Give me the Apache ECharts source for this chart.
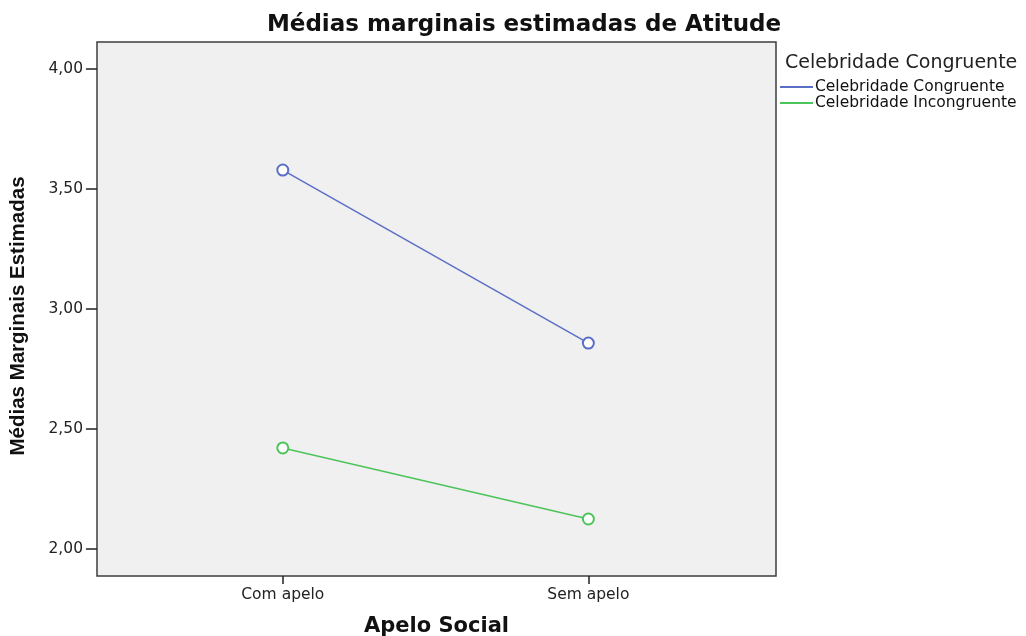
<!DOCTYPE html>
<html>
<head>
<meta charset="utf-8">
<script src="https://cdn.jsdelivr.net/npm/echarts@6/dist/echarts.min.js"></script>
<style>html,body{margin:0;padding:0;background:#fff}#c{width:1026px;height:636px}</style>
</head>
<body>
<div id="c"></div>
<script>
var categories = ['Com apelo', 'Sem apelo'];
var seriesNames = ['Celebridade Congruente', 'Celebridade Incongruente'];
var congruente = [3.579, 2.858];
var incongruente = [2.421, 2.125];
var yTicks = [2.0, 2.5, 3.0, 3.5, 4.0];

function toPts(arr) { return arr.map(function (v, i) { return [i, v]; }); }

var chart = echarts.init(document.getElementById('c'));
chart.setOption({
  animation: false,
  backgroundColor: '#ffffff',
  title: [{
    text: 'Médias marginais estimadas de Atitude',
    left: 519, top: 9, textAlign: 'center',
    textStyle: { fontFamily: 'DejaVu Sans', fontWeight: 'bold', fontSize: 23, color: '#111' }
  }, {
    text: 'Celebridade Congruente',
    left: 780, top: 49,
    textStyle: { fontFamily: 'DejaVu Sans', fontWeight: 'normal', fontSize: 19, color: '#222' }
  }],
  legend: {
    orient: 'vertical', left: 780, top: 79, padding: 0,
    itemWidth: 33, itemHeight: 2, itemGap: 0, icon: 'rect',
    textStyle: { fontFamily: 'DejaVu Sans', fontSize: 15.5, color: '#111', lineHeight: 16, padding: [0, 0, 0, -3] },
    data: seriesNames
  },
  grid: {
    left: 97, right: 250, top: 42, bottom: 60,
    containLabel: false, outerBoundsMode: 'none',
    show: true, backgroundColor: '#f0f0f0', borderColor: '#3c3c3c', borderWidth: 1.5
  },
  xAxis: {
    type: 'value', min: -0.608, max: 1.614,
    name: 'Apelo Social', nameLocation: 'middle', nameGap: 40,
    nameTextStyle: { fontFamily: 'DejaVu Sans', fontWeight: 'bold', fontSize: 21, color: '#111' },
    axisLine: { show: false, onZero: false },
    splitLine: { show: false },
    axisTick: { show: true, length: 8, lineStyle: { color: '#222', width: 1.5 }, customValues: [0, 1] },
    axisLabel: {
      customValues: [0, 1], margin: 11,
      fontFamily: 'DejaVu Sans', fontSize: 15.5, color: '#222',
      formatter: function (v) { return categories[Math.round(v)] || ''; }
    }
  },
  yAxis: {
    type: 'value', min: 1.8875, max: 4.1125,
    name: 'Médias Marginais Estimadas', nameLocation: 'middle', nameGap: 68, nameRotate: 90,
    nameTextStyle: { fontFamily: "'Liberation Sans Narrow', 'Liberation Sans'", fontWeight: 'bold', fontSize: 20.5, color: '#111', padding: [0, 14, 0, 0] },
    axisLine: { show: false, onZero: false },
    splitLine: { show: false },
    axisTick: { show: true, length: 11, lineStyle: { color: '#222', width: 1.5 }, customValues: yTicks },
    axisLabel: {
      customValues: yTicks, margin: 14,
      fontFamily: 'DejaVu Sans', fontSize: 15.5, color: '#222',
      formatter: function (v) { return v.toFixed(2).replace('.', ','); }
    }
  },
  series: [{
    name: seriesNames[0], type: 'line', data: toPts(congruente),
    symbol: 'emptyCircle', symbolSize: 11,
    lineStyle: { color: '#5b6fc7', width: 1.5 },
    itemStyle: { color: '#5b6fc7', borderWidth: 1.5 }
  }, {
    name: seriesNames[1], type: 'line', data: toPts(incongruente),
    symbol: 'emptyCircle', symbolSize: 11,
    lineStyle: { color: '#4dc45a', width: 1.5 },
    itemStyle: { color: '#4dc45a', borderWidth: 1.5 }
  }]
});
</script>
</body>
</html>
